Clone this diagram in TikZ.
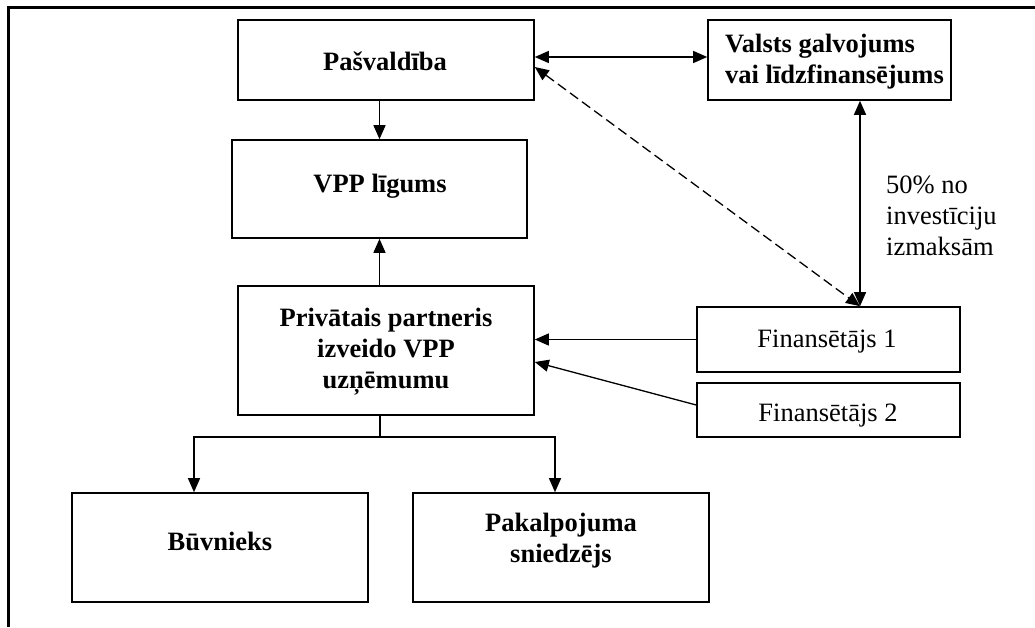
\documentclass[tikz,border=0pt]{standalone}
\usepackage{fontspec}
\setmainfont{Liberation Serif}
\usetikzlibrary{arrows.meta}
\begin{document}
\begin{tikzpicture}[x=1pt,y=-1pt,
  box/.style={draw, line width=1.6pt, inner sep=0pt},
  txt/.style={inner sep=0pt, font=\fontsize{26.5}{31}\selectfont},
  btxt/.style={txt, font=\fontsize{26.5}{31}\selectfont\bfseries},
  conn/.style={line width=1.3pt, -{Triangle[length=14pt,width=12pt]}},
  dconn/.style={line width=1.3pt, {Triangle[length=14pt,width=12pt]}-{Triangle[length=14pt,width=12pt]}},
  plain/.style={line width=1.3pt}]
\useasboundingbox (0,0) rectangle (1035,627);
\draw[line width=3pt] (8.5,627) -- (8.5,7) -- (1035,7);
% boxes
\node[box, minimum width=296pt, minimum height=80pt] (pas) at (386,60) {};
\node[box, minimum width=295pt, minimum height=98pt] (vpp) at (379.5,189) {};
\node[box, minimum width=296pt, minimum height=129pt] (priv) at (386,350.5) {};
\node[box, minimum width=243pt, minimum height=80pt] (val) at (829.5,60) {};
\node[box, minimum width=263pt, minimum height=65pt] (fin1) at (828.5,339.5) {};
\node[box, minimum width=263pt, minimum height=54pt] (fin2) at (828.5,410) {};
\node[box, minimum width=296pt, minimum height=109pt] (buv) at (220,547.5) {};
\node[box, minimum width=296pt, minimum height=109pt] (pak) at (561,547.5) {};
% texts
\node[btxt] (tpas) at (385,61) {Pašvaldība};
\node[btxt] (tvpp) at (380,186) {VPP līgums};
\node[btxt, align=center] (tpriv) at (386,352) {Privātais partneris\\izveido VPP\\uzņēmumu};
\node[btxt, align=left, anchor=west] (tval) at (725,62) {Valsts galvojums\\vai līdzfinansējums};
\node[txt] (tfin1) at (827,342) {Finansētājs 1};
\node[txt] (tfin2) at (828,416) {Finansētājs 2};
\node[btxt] (tbuv) at (220,541) {Būvnieks};
\node[btxt, align=center] (tpak) at (561,541) {Pakalpojuma\\sniedzējs};
\node[txt, align=left, anchor=west] (lbl) at (886,216) {50\% no\\investīciju\\izmaksām};
% connectors
\draw[conn] (vpp.north |- pas.south) -- (vpp.north);
\draw[conn] (vpp.south |- priv.north) -- (vpp.south);
\draw[dconn] ([yshift=3pt]pas.east) -- ([yshift=3pt]val.west);
\draw[dconn, dash pattern=on 10pt off 5pt] ([yshift=-7pt]pas.east) -- ([xshift=31.5pt]fin1.north);
\draw[dconn] ([xshift=30.5pt]val.south) -- ([xshift=31.5pt]fin1.north);
\draw[conn] (fin1.west) -- (fin1.west -| priv.east);
\draw[conn] ([yshift=5pt]fin2.west) -- ([yshift=-11.5pt]priv.east);
\coordinate (j) at (380,437);
\draw[plain] (priv.south -| j) -- (j);
\draw[conn] (j) -| ([xshift=-26pt]buv.north);
\draw[conn] (j) -| ([xshift=-6pt]pak.north);
\end{tikzpicture}
\end{document}
